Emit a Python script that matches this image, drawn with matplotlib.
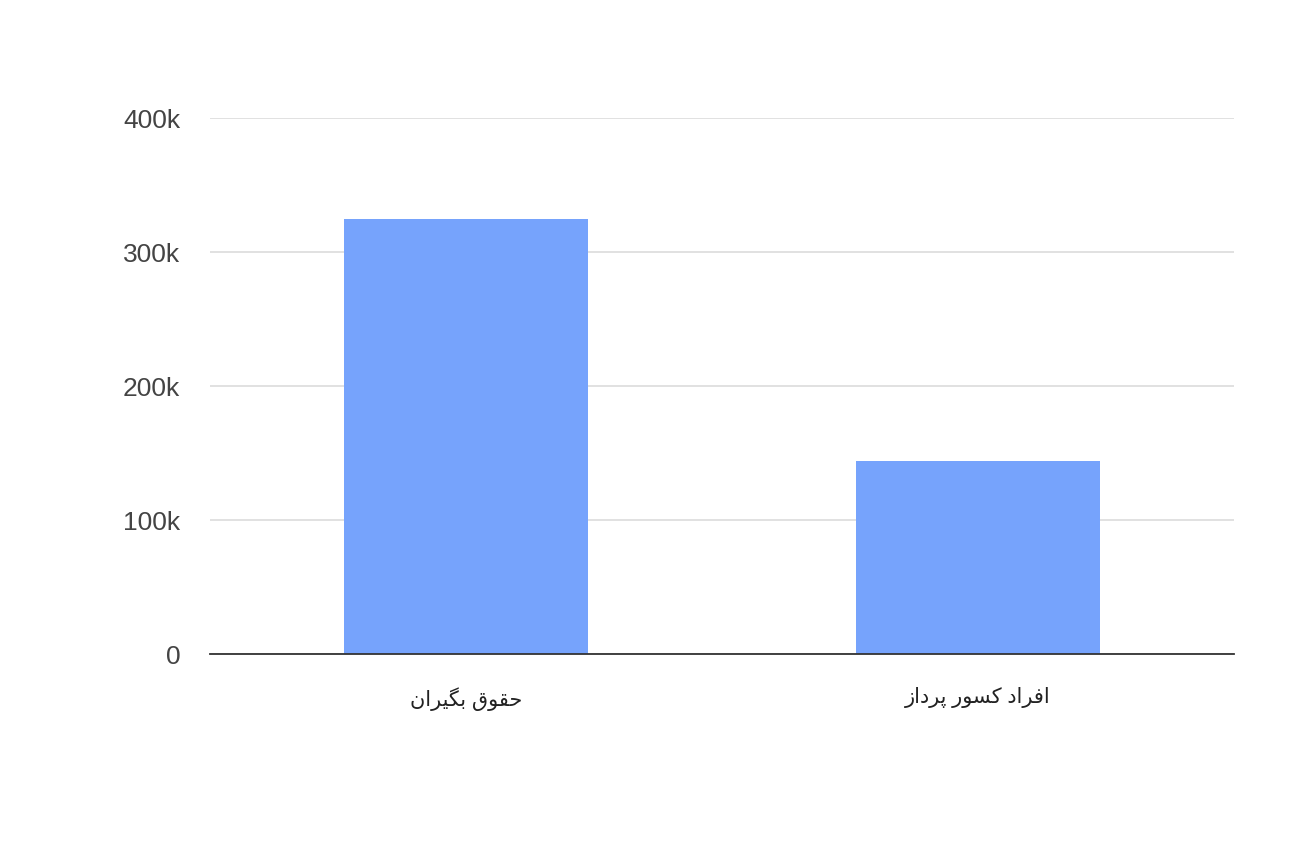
import matplotlib
matplotlib.use("Agg")
import matplotlib.pyplot as plt
from matplotlib import ticker

categories = ["حقوق بگیران", "افراد کسور پرداز"]
values = [325000, 144000]
y_ticks = [0, 100000, 200000, 300000, 400000]

# isolated, final, initial, medial (None where the letter does not join left)
FORMS = {
    "\u0627": ("\uFE8D", "\uFE8E", None, None),
    "\u0628": ("\uFE8F", "\uFE90", "\uFE91", "\uFE92"),
    "\u062D": ("\uFEA1", "\uFEA2", "\uFEA3", "\uFEA4"),
    "\u062F": ("\uFEA9", "\uFEAA", None, None),
    "\u0631": ("\uFEAD", "\uFEAE", None, None),
    "\u0632": ("\uFEAF", "\uFEB0", None, None),
    "\u0633": ("\uFEB1", "\uFEB2", "\uFEB3", "\uFEB4"),
    "\u0641": ("\uFED1", "\uFED2", "\uFED3", "\uFED4"),
    "\u0642": ("\uFED5", "\uFED6", "\uFED7", "\uFED8"),
    "\u0646": ("\uFEE5", "\uFEE6", "\uFEE7", "\uFEE8"),
    "\u0648": ("\uFEED", "\uFEEE", None, None),
    "\u067E": ("\uFB56", "\uFB57", "\uFB58", "\uFB59"),
    "\u06A9": ("\uFB8E", "\uFB8F", "\uFB90", "\uFB91"),
    "\u06AF": ("\uFB92", "\uFB93", "\uFB94", "\uFB95"),
    "\u06CC": ("\uFBFC", "\uFBFD", "\uFBFE", "\uFBFF"),
}


def joins_left(ch):
    return ch in FORMS and FORMS[ch][2] is not None


def shape(text):
    # matplotlib has no arabic shaping, so pick presentation forms by hand
    out = []
    for i, ch in enumerate(text):
        if ch not in FORMS:
            out.append(ch)
            continue
        prev = text[i - 1] if i > 0 else ""
        nxt = text[i + 1] if i + 1 < len(text) else ""
        from_right = joins_left(prev)
        to_left = joins_left(ch) and nxt in FORMS
        iso, fin, ini, med = FORMS[ch]
        if from_right and to_left:
            out.append(med)
        elif from_right:
            out.append(fin)
        elif to_left:
            out.append(ini)
        else:
            out.append(iso)
    return "".join(reversed(out))


plt.rcParams['font.family'] = ['Liberation Sans', 'DejaVu Sans']

fig = plt.figure(figsize=(12.99, 8.57), dpi=100)
ax = fig.add_axes([210 / 1299, 203 / 857, 1024 / 1299, 536 / 857])

x = range(len(categories))
ax.bar(x, values, width=0.477, color='#76a3fc', zorder=3)

ax.set_xlim(-0.5, len(categories) - 0.5)
ax.set_ylim(0, 400000)
ax.set_yticks(y_ticks)
ax.yaxis.set_major_formatter(ticker.FuncFormatter(
    lambda v, pos: '0' if v == 0 else '%dk' % (v / 1000)))
ax.set_xticks(list(x))
ax.set_xticklabels([shape(c) for c in categories])

ax.grid(axis='y', color='#dedede', linewidth=1.3, zorder=0)
for s in ['top', 'right', 'left']:
    ax.spines[s].set_visible(False)
ax.spines['bottom'].set_color('#333333')
ax.spines['bottom'].set_linewidth(1.3)
ax.spines['bottom'].set_zorder(4)

ax.tick_params(axis='y', length=0, pad=21.5, labelsize=19, labelcolor='#444444')
ax.tick_params(axis='x', length=0, pad=24, labelsize=15, labelcolor='#222222')

fig.savefig('out.png', dpi=100, facecolor='white')
